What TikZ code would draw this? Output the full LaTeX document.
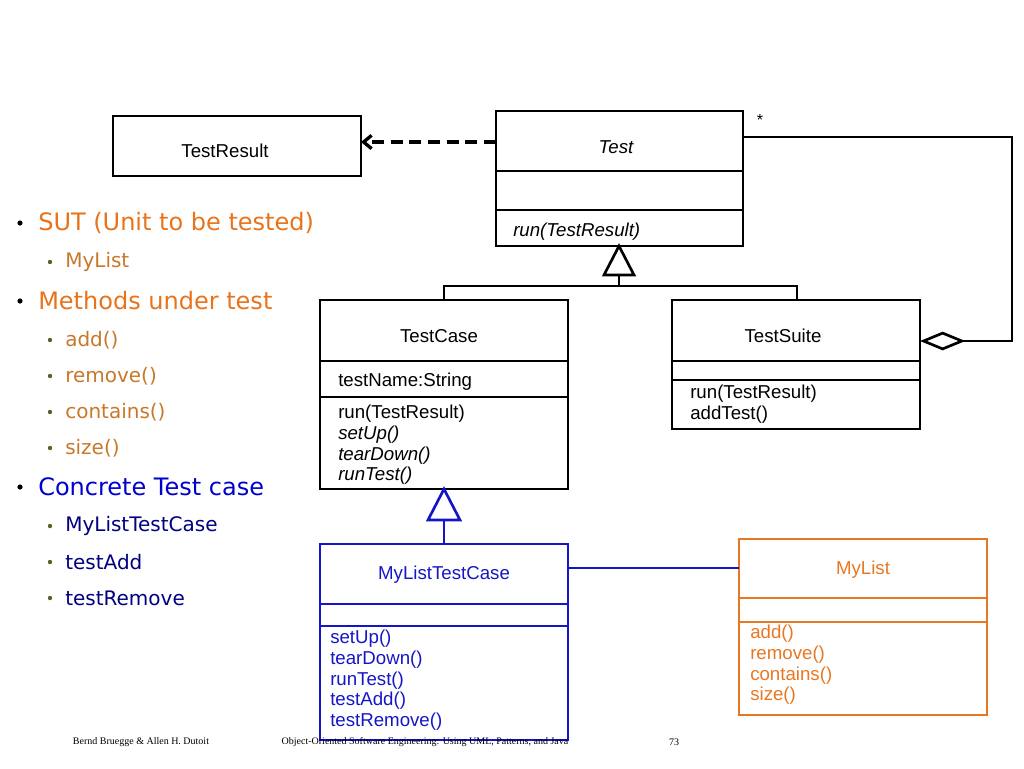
\documentclass[tikz,border=0pt]{standalone}
\usepackage{fontspec}
\setmainfont{Liberation Sans}
\newfontfamily\verd{DejaVu Sans}
\newfontfamily\tms{Liberation Serif}
\usetikzlibrary{arrows.meta}
\definecolor{orng}{HTML}{E8731A}
\definecolor{orsub}{HTML}{C87828}
\definecolor{bl}{HTML}{0000CC}
\definecolor{dbl}{HTML}{000080}
\definecolor{boxbl}{HTML}{1515C8}
\definecolor{boxor}{HTML}{E87722}
\begin{document}
\begin{tikzpicture}[x=0.75pt,y=-0.75pt,
  box/.style={line width=2.2pt},
  bt/.style={font=\fontsize{14}{16}\selectfont},
  mt/.style={font=\fontsize{14}{15.5}\selectfont,anchor=north west,align=left,inner sep=0pt},
  b1/.style={anchor=west,inner sep=0pt,font=\verd\fontsize{18}{20}\selectfont},
  b2/.style={anchor=west,inner sep=0pt,font=\verd\fontsize{15}{17}\selectfont},
  gen/.style={line width=2pt}]
\useasboundingbox (0,0) rectangle (1024,768);
% TestResult
\draw[box] (113,116) rectangle (361,176);
\node[bt] (tr) at (225,151) {TestResult};
\coordinate (trr) at (361,142);
% Test
\draw[box] (496,111) rectangle (743,246);
\draw[box] (496,171) -- (743,171) (496,210) -- (743,210);
\node[bt,font=\itshape\fontsize{14}{16}\selectfont] (t) at (616,147) {Test};
\node[mt,font=\itshape\fontsize{14}{16}\selectfont] (trun) at (513,223) {run(TestResult)};
\coordinate (tl) at (496,142);
\draw[line width=2.5pt,dash pattern=on 9pt off 5pt,-{Straight Barb[length=6pt,width=10pt]}] (tl) -- (trr);
\node[font=\fontsize{12}{14}\selectfont] (star) at (760,120) {*};
% Generalization to Test
\coordinate (g1) at (619,275);
\draw[gen,fill=white] (619,246) -- (634,275) -- (604,275) -- cycle;
\draw[gen] (g1) -- (619,286) (444,300) -- (444,286) -- (797,286) -- (797,300);
% TestCase
\draw[box] (320,300) rectangle (568,489);
\draw[box] (320,361) -- (568,361) (320,397) -- (568,397);
\node[bt] (tc) at (439,336) {TestCase};
\node[mt] (tca) at (338,373) {testName:String};
\node[mt] (tcm) at (338,405) {run(TestResult)\\\itshape setUp()\\\itshape tearDown()\\\itshape runTest()};
% TestSuite
\draw[box] (672,300) rectangle (920,429);
\draw[box] (672,361) -- (920,361) (672,380) -- (920,380);
\node[bt] (ts) at (783,336) {TestSuite};
\node[mt] (tsm) at (690,385) {run(TestResult)\\addTest()};
% aggregation
\coordinate (a1) at (743,137);
\draw[line width=2.2pt,-{Diamond[open,length=34pt,width=14pt,line width=2pt]}] (a1) -- (1012,137) -- (1012,341) -- (920,341);
% blue generalization
\draw[gen,boxbl,fill=white] (444,489) -- (460,520) -- (428,520) -- cycle;
\draw[gen,boxbl] (444,520) -- (444,544);
% MyListTestCase
\draw[box,boxbl] (320,544) rectangle (568,740);
\draw[box,boxbl] (320,604) -- (568,604) (320,626) -- (568,626);
\node[bt,text=boxbl] (mltc) at (444,575) {MyListTestCase};
\node[mt,text=boxbl] (mltcm) at (330,630) {setUp()\\tearDown()\\runTest()\\testAdd()\\testRemove()};
% MyList
\draw[box,boxor] (739,539) rectangle (987,715);
\draw[box,boxor] (739,598) -- (987,598) (739,622) -- (987,622);
\node[bt,text=boxor] (ml) at (863,570) {MyList};
\node[mt,text=boxor] (mlm) at (750,625) {add()\\remove()\\contains()\\size()};
\draw[line width=2.2pt,boxbl] (568,568) -- (739,568);
% bullets
\node[b1,text=orng] (s1) at (38,223) {SUT (Unit to be tested)};
\node[b2,text=orsub] (s2) at (65,262) {MyList};
\node[b1,text=orng] (s3) at (38,301) {Methods under test};
\node[b2,text=orsub] (s4) at (65,340) {add()};
\node[b2,text=orsub] (s5) at (65,376) {remove()};
\node[b2,text=orsub] (s6) at (65,412) {contains()};
\node[b2,text=orsub] (s7) at (65,448) {size()};
\node[b1,text=bl] (s8) at (38,487) {Concrete Test case};
\node[b2,text=dbl] (s9) at (65,526) {MyListTestCase};
\node[b2,text=dbl] (s10) at (65,562) {testAdd};
\node[b2,text=dbl] (s11) at (65,598) {testRemove};
\foreach \y in {223,301,487} \fill (20,\y) circle (2.6);
\foreach \y in {262,340,376,412,448,526,562,598} \fill[olive!60!black] (50,\y) circle (2.2);
% footer
\node[font=\tms\fontsize{7.5}{9}\selectfont] (f1) at (141,742) {Bernd Bruegge \& Allen H. Dutoit};
\node[font=\tms\fontsize{7.5}{9}\selectfont] (f2) at (425,742) {Object-Oriented Software Engineering: Using UML, Patterns, and Java};
\node[font=\tms\fontsize{7.5}{9}\selectfont] (f3) at (674,742) {73};
\end{tikzpicture}
\end{document}
